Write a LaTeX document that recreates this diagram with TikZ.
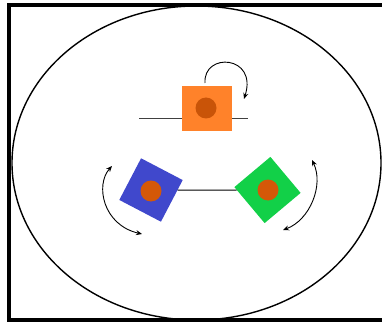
\documentclass[tikz,border=0pt]{standalone}
\usetikzlibrary{arrows.meta, shapes.geometric}
\definecolor{boxorange}{RGB}{255,130,42}
\definecolor{boxblue}{RGB}{64,72,204}
\definecolor{boxgreen}{RGB}{18,208,72}
\definecolor{dotorange}{RGB}{212,88,8}
\tikzset{
    block/.style={fill=#1, draw=none, inner sep=0pt},
    dot/.style={circle, fill=dotorange, draw=none, minimum size=21pt, inner sep=0pt},
    turn/.style={line width=0.9pt, -{Stealth[length=6pt, width=5pt]}}
}
\begin{document}
\begin{tikzpicture}[x=1pt, y=-1pt]
    \useasboundingbox (0,0) rectangle (382,323);

    % rahmen
    \draw[line width=4pt] (384,5) -| (9,320) -- (384,320);
    \node[draw, ellipse, line width=1.4pt, minimum width=369pt, minimum height=314pt, inner sep=0pt] (field) at (196.5,163) {};

    % oberes element
    \coordinate (axisL) at (139,119);
    \coordinate (axisR) at (248,119);
    \draw[line width=1pt, black!75] (axisL) -- (axisR);
    \node[block=boxorange, minimum width=50pt, minimum height=45pt] (top) at (207,108.5) {};
    \node[dot, fill=dotorange!95!black] (topDot) at (206,108) {};
    \coordinate (topStart) at (205,83);
    \coordinate (topEnd) at (244,99);
    \draw[turn] (topStart) .. controls (203,52) and (258,55) .. (topEnd);

    % untere elemente
    \node[block=boxblue, minimum size=47pt, rotate=-27.6] (blue) at (151,190) {};
    \node[block=boxgreen, minimum size=47pt, rotate=40] (green) at (267.5,190) {};
    \draw[line width=1pt] (blue) -- (green);
    \node[dot] (blueDot) at (151,191) {};
    \node[dot] (greenDot) at (268,190) {};

    \coordinate (leftA) at (112,166);
    \coordinate (leftB) at (142,234);
    \draw[turn, {Stealth[length=6pt, width=5pt]}-{Stealth[length=6pt, width=5pt]}] (leftA) .. controls (95,185) and (103,225) .. (leftB);
    \coordinate (rightA) at (312,160);
    \coordinate (rightB) at (283,230);
    \draw[turn, {Stealth[length=6pt, width=5pt]}-{Stealth[length=6pt, width=5pt]}] (rightA) .. controls (324,185) and (310,220) .. (rightB);
\end{tikzpicture}
\end{document}
